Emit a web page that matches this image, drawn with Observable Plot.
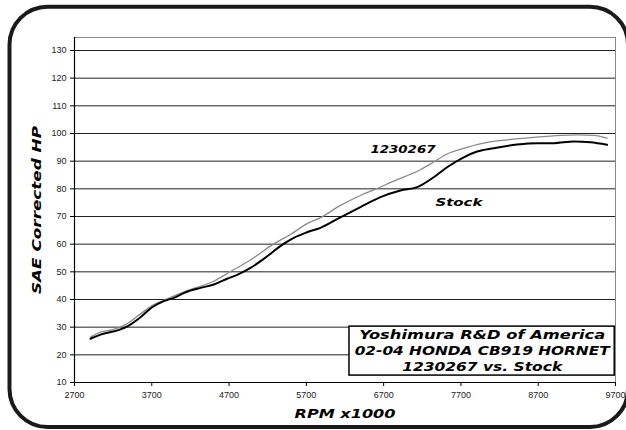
<!DOCTYPE html>
<html>
<head>
<meta charset="utf-8">
<script src="https://cdn.jsdelivr.net/npm/d3@7"></script>
<script src="https://cdn.jsdelivr.net/npm/@observablehq/plot@0.6"></script>
<style>
  html, body { margin: 0; padding: 0; background: #fff; }
  #chart { width: 626px; height: 430px; overflow: hidden; }
</style>
</head>
<body>
<div id="chart"></div>
<script>
// ---- data ----
const stockRpm = [2907,3036,3295,3402,3554,3705,3856,3985,4136,4330,4502,4675,4805,4977,5149,5400,5537,5710,5882,6141,6400,6659,6917,7133,7348,7521,7736,7909,8124,8426,8685,8900,9159,9375,9591];
const stockHp  = [25.8,27.3,29.2,30.6,33.6,37.2,39.4,40.6,42.6,44.2,45.4,47.5,48.9,51.4,54.7,60.0,62.3,64.3,65.9,69.7,73.4,77.0,79.4,80.6,84.2,87.8,91.4,93.5,94.7,96.0,96.5,96.5,97.1,96.8,95.9];

const yoshiRpm = [2907,3036,3208,3360,3554,3705,3899,4158,4502,4718,4977,5278,5500,5710,5882,6141,6400,6572,6831,7176,7348,7521,7779,8038,8297,8642,8987,9202,9418,9591];
const yoshiHp  = [26.4,28.2,29.2,30.9,34.8,37.8,40.2,43.2,46.6,50.1,54.3,60.1,63.6,67.4,69.6,74.0,77.6,79.6,82.8,86.9,89.7,92.6,95.0,96.8,97.7,98.6,99.3,99.5,99.3,98.3];

const xTicks = [2700,3700,4700,5700,6700,7700,8700,9700];
const yTicks = [10,20,30,40,50,60,70,80,90,100,110,120,130];

const yLabel = "SAE Corrected HP";
const xLabel = "RPM x1000";
const seriesLabels = ["1230267", "Stock"];
const boxLines = ["Yoshimura R&D of America", "02-04 HONDA CB919 HORNET", "1230267 vs. Stock"];

// ---- build tables ----
const stock = stockRpm.map((r, i) => ({rpm: r, hp: stockHp[i]}));
const yoshi = yoshiRpm.map((r, i) => ({rpm: r, hp: yoshiHp[i]}));

const labelFont = "DejaVu Sans, Verdana, sans-serif";
const boldItalic = {fontFamily: labelFont, fontWeight: "bold", fontStyle: "italic", fill: "#000"};

const boxX = [6258, 9690];
const boxY = [12.5, 30.2];

const svg = Plot.plot({
  width: 626,
  height: 430,
  marginLeft: 74,
  marginRight: 11,
  marginTop: 37,
  marginBottom: 48,
  style: {background: "#fff", fontFamily: "Liberation Sans, Arial, sans-serif", overflow: "hidden"},
  x: {domain: [2700, 9700]},
  y: {domain: [10, 134.7]},
  marks: [
    Plot.gridY(yTicks.filter(d => d > 10), {stroke: "#222", strokeOpacity: 1, strokeWidth: 1}),
    Plot.ruleY([134.7], {stroke: "#888", strokeWidth: 1}),
    Plot.ruleX([9700], {stroke: "#888", strokeWidth: 1}),
    Plot.ruleX([2700], {stroke: "#000", strokeWidth: 1.2}),
    Plot.ruleY([10], {stroke: "#000", strokeWidth: 1.2}),
    Plot.axisY(yTicks, {tickSize: 4, tickPadding: 4, fontSize: 9, fill: "#222", stroke: "#000", label: null}),
    Plot.axisX(xTicks, {tickSize: 4, tickPadding: 5, fontSize: 9, fill: "#222", stroke: "#000", label: null, tickFormat: d => String(d)}),
    Plot.line(yoshi, {x: "rpm", y: "hp", stroke: "#8a8a8a", strokeWidth: 1.3, curve: "monotone-x"}),
    Plot.line(stock, {x: "rpm", y: "hp", stroke: "#000", strokeWidth: 2, curve: "monotone-x"}),
    Plot.text([seriesLabels[0]], {x: () => 6950, y: () => 94.2, text: d => d, fontSize: 11, ...boldItalic}),
    Plot.text([seriesLabels[1]], {x: () => 7674, y: () => 74.9, text: d => d, fontSize: 11, ...boldItalic}),
    Plot.rect([0], {x1: () => boxX[0], x2: () => boxX[1], y1: () => boxY[0], y2: () => boxY[1], fill: "#fff", stroke: "#000", strokeWidth: 1.5}),
    ...boxLines.map((t, i) => Plot.text([t], {x: () => 7975, y: () => 21.4, dy: (i - 1) * 15.6, text: d => d, fontSize: 12.5, ...boldItalic})),
    Plot.text([yLabel], {frameAnchor: "left", textAnchor: "middle", lineAnchor: "middle", dx: -38, rotate: -90, text: d => d, fontSize: 12.5, ...boldItalic}),
    Plot.text([xLabel], {frameAnchor: "bottom", textAnchor: "middle", lineAnchor: "middle", dy: 31, text: d => d, fontSize: 12.5, ...boldItalic})
  ]
});

document.getElementById("chart").appendChild(svg);

// stretch the extended-looking labels to the widths seen in the reference
const widths = new Map([
  [yLabel, 168], [xLabel, 101], [seriesLabels[0], 65], [seriesLabels[1], 47],
  [boxLines[0], 246], [boxLines[1], 255], [boxLines[2], 160]
]);
d3.select(svg).selectAll("text").each(function() {
  const t = this.textContent;
  if (widths.has(t)) {
    this.setAttribute("textLength", widths.get(t));
    this.setAttribute("lengthAdjust", "spacingAndGlyphs");
  }
});

// rounded outer frame
d3.select(svg).append("rect")
  .attr("x", 9.5).attr("y", 6.7)
  .attr("width", 618.5).attr("height", 420.3)
  .attr("rx", 38).attr("ry", 38)
  .attr("fill", "none").attr("stroke", "#1a1a1a").attr("stroke-width", 4);
</script>
</body>
</html>
